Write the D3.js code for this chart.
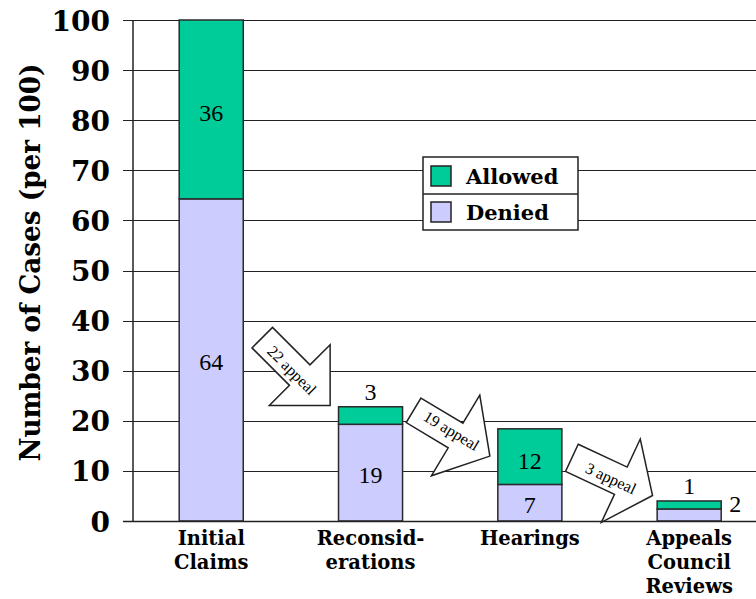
<!DOCTYPE html>
<html>
<head>
<meta charset="utf-8">
<script src="https://cdn.jsdelivr.net/npm/d3@7"></script>
<style>
  html, body { margin: 0; padding: 0; background: #fff; }
  svg { display: block; }
  .serif { font-family: "Liberation Serif", "Times New Roman", serif; }
  .bserif { font-family: "DejaVu Serif", serif; font-weight: bold; }
</style>
</head>
<body>
<svg id="chart" width="756" height="599"></svg>
<script>
// ---- data ----
const categories = ["Initial Claims", "Reconsiderations", "Hearings", "Appeals Council Reviews"];
const categoryLines = [["Initial", "Claims"], ["Reconsid-", "erations"], ["Hearings"], ["Appeals", "Council", "Reviews"]];
const deniedValues = [64.3, 19.3, 7.3, 2.4];
const allowedValues = [35.7, 3.5, 11.1, 1.6];
const deniedLabels = ["64", "19", "7", "2"];
const allowedLabels = ["36", "3", "12", "1"];
const seriesNames = ["Allowed", "Denied"];
const yTicks = [0, 10, 20, 30, 40, 50, 60, 70, 80, 90, 100];
const arrowLabels = ["22 appeal", "19 appeal", "3 appeal"];
const arrowFromIndex = [0, 1, 2];
const arrowTailValues = [36.6, 22.1, 12.6];

// ---- layout ----
const W = 756, H = 599;
const colors = { Allowed: "#00CC99", Denied: "#CCCCFF" };
const outline = "#2a2a2a";
const svg = d3.select("#chart");

const y = d3.scaleLinear().domain([0, 100]).range([521, 20]);
const x = d3.scaleBand().domain(categories).range([133, 767.4]).paddingInner(0.598).paddingOuter(0.29);
const bw = x.bandwidth();

// gridlines (extend left past the axis as tick marks)
svg.append("g").selectAll("line").data(yTicks).join("line")
  .attr("x1", 123).attr("x2", W)
  .attr("y1", d => Math.round(y(d)) + 0.5).attr("y2", d => Math.round(y(d)) + 0.5)
  .attr("stroke", "#222").attr("stroke-width", 1.2);

// y axis line
svg.append("line").attr("x1", 133).attr("x2", 133).attr("y1", y(100)).attr("y2", y(0))
  .attr("stroke", "#222").attr("stroke-width", 1.5);

// y tick labels
svg.append("g").selectAll("text").data(yTicks).join("text")
  .attr("class", "bserif")
  .attr("x", 110).attr("y", d => y(d) + 1)
  .attr("text-anchor", "end").attr("dominant-baseline", "central")
  .attr("font-size", 28)
  .attr("fill", "#000").text(d => d);

// y title
svg.append("text")
  .attr("class", "bserif")
  .attr("transform", `translate(30,${(y(100) + y(0)) / 2 - 8}) rotate(-90)`)
  .attr("text-anchor", "middle").attr("dominant-baseline", "central")
  .attr("font-size", 28)
  .attr("textLength", 398).attr("lengthAdjust", "spacingAndGlyphs")
  .text("Number of Cases (per 100)");

// bars
const rows = categories.map((c, i) => ({
  cat: c, denied: deniedValues[i], allowed: allowedValues[i],
  dl: deniedLabels[i], al: allowedLabels[i]
}));
const barG = svg.append("g");
rows.forEach(r => {
  const x0 = x(r.cat);
  barG.append("rect").attr("x", x0).attr("width", bw)
    .attr("y", y(r.denied)).attr("height", y(0) - y(r.denied))
    .attr("fill", colors.Denied).attr("stroke", outline).attr("stroke-width", 1.5);
  barG.append("rect").attr("x", x0).attr("width", bw)
    .attr("y", y(r.denied + r.allowed)).attr("height", y(r.denied) - y(r.denied + r.allowed))
    .attr("fill", colors.Allowed).attr("stroke", outline).attr("stroke-width", 1.5);
});

// value labels
rows.forEach(r => {
  const cx = x(r.cat) + bw / 2;
  const topY = y(r.denied + r.allowed), midY = y(r.denied);
  let t = svg.append("text").attr("class", "serif").attr("font-size", 24)
    .attr("text-anchor", "middle").text(r.al);
  if (midY - topY > 20) t.attr("x", cx).attr("y", (topY + midY) / 2 + 4).attr("dominant-baseline", "central");
  else t.attr("x", cx).attr("y", topY - 7);
  let t2 = svg.append("text").attr("class", "serif").attr("font-size", 24).text(r.dl);
  if (y(0) - midY > 20) t2.attr("x", cx).attr("y", (midY + y(0)) / 2 + 2).attr("text-anchor", "middle").attr("dominant-baseline", "central");
  else t2.attr("x", x(r.cat) + bw + 8).attr("y", midY - 5).attr("dominant-baseline", "central");
});

// x axis baseline
svg.append("line").attr("x1", 123).attr("x2", W).attr("y1", y(0) + 0.5).attr("y2", y(0) + 0.5)
  .attr("stroke", "#222").attr("stroke-width", 1.6);

// category labels
categories.forEach((c, i) => {
  const t = svg.append("text").attr("class", "bserif").attr("x", x(c) + bw / 2).attr("y", 545)
    .attr("text-anchor", "middle")
    .attr("font-size", 19.5);
  categoryLines[i].forEach((ln, k) => {
    t.append("tspan").attr("x", x(c) + bw / 2).attr("dy", k === 0 ? 0 : 24).text(ln);
  });
});

// arrows (annotation block arrows)
const arrowShapes = [
  { dx: 19, angle: 45, sw: 14.5, sl: 53, hw: 43, hl: 43, tx: 44, ty: 2 },
  { dx: 11, angle: 31, sw: 14.3, sl: 49, hw: 47, hl: 40, tx: 43, ty: -2 },
  { dx: 10, angle: 25, sw: 15, sl: 54, hw: 46, hl: 35, tx: 44, ty: 2 }
];
arrowLabels.forEach((lab, i) => {
  const s = arrowShapes[i];
  const tx = x(categories[arrowFromIndex[i]]) + bw + s.dx;
  const ty = y(arrowTailValues[i]);
  const pts = [[0, -s.sw], [s.sl, -s.sw], [s.sl, -s.hw], [s.sl + s.hl, 0], [s.sl, s.hw], [s.sl, s.sw], [0, s.sw]];
  const g = svg.append("g").attr("transform", `translate(${tx},${ty}) rotate(${s.angle})`);
  g.append("path").attr("d", d3.line()(pts) + "Z")
    .attr("fill", "#fff").attr("stroke", "#222").attr("stroke-width", 1.5).attr("stroke-linejoin", "miter");
  g.append("text").attr("class", "serif").attr("x", s.tx).attr("y", s.ty)
    .attr("text-anchor", "middle").attr("dominant-baseline", "central")
    .attr("font-size", 16)
    .text(lab);
});

// legend
const lg = svg.append("g");
lg.append("rect").attr("x", 423).attr("y", 157).attr("width", 155).attr("height", 73)
  .attr("fill", "#fff").attr("stroke", "#222").attr("stroke-width", 1.5);
lg.append("line").attr("x1", 423).attr("x2", 578).attr("y1", 194).attr("y2", 194)
  .attr("stroke", "#222").attr("stroke-width", 1.5);
seriesNames.forEach((n, k) => {
  const yy = 166 + k * 36;
  lg.append("rect").attr("x", 431).attr("y", yy).attr("width", 20).attr("height", 20)
    .attr("fill", colors[n]).attr("stroke", "#222").attr("stroke-width", 1.5);
  lg.append("text").attr("class", "bserif").attr("x", 466).attr("y", yy + 18)
    .attr("font-size", 21).text(n);
});
</script>
</body>
</html>
